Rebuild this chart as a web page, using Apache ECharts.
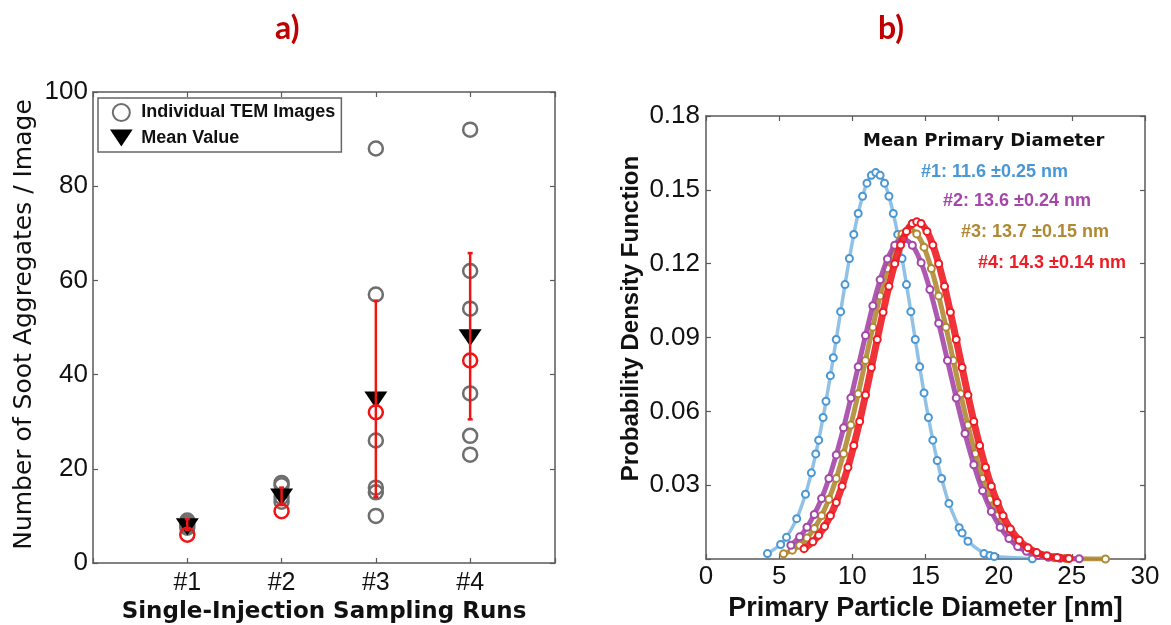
<!DOCTYPE html>
<html>
<head>
<meta charset="utf-8">
<script src="https://cdn.jsdelivr.net/npm/echarts@6/dist/echarts.min.js"></script>
<style>
  html, body { margin: 0; padding: 0; background: #fff; }
  #chart { width: 1171px; height: 625px; }
</style>
</head>
<body>
<div id="chart"></div>
<script>
// ---- panel a) data ----
var runs = [1, 2, 3, 4];
var runLabels = ['#1', '#2', '#3', '#4'];
var temImages = [
    [9, 8.5, 8, 7.5],
    [17, 16.5, 14, 13],
    [88, 57, 26, 16, 15, 10],
    [92, 62, 54, 36, 27, 23]
];
var meanValues = [7.7, 14, 34.6, 47.8];
var redValues = [6, 11, 32, 43];
var errLow = [7, 12.3, 14, 30.5];
var errHigh = [9.3, 16, 55.7, 65.8];

// ---- panel b) data (read off the curves) ----
var d1x = [4.2, 5.1, 5.5, 6.2, 6.8, 7.2, 7.5, 7.7, 8.0, 8.2, 8.5, 8.7, 8.9, 9.2, 9.5, 9.8, 10.1, 10.4, 10.7, 11.0, 11.3, 11.6,
    11.9, 12.2, 12.5, 12.8, 13.1, 13.4, 13.7, 14.0, 14.3, 14.6, 14.9, 15.2, 15.5, 15.8, 16.1, 16.6, 17.3, 17.5, 17.9, 19.0, 19.4, 19.7, 22.3];
var d1y = [0.0022, 0.0059, 0.0088, 0.0164, 0.0263, 0.0350, 0.0427, 0.0483, 0.0575, 0.0641, 0.0745, 0.0818, 0.0892, 0.1005, 0.1115,
    0.1221, 0.1319, 0.1404, 0.1474, 0.1527, 0.1559, 0.1570, 0.1559, 0.1527, 0.1474, 0.1404, 0.1319, 0.1221, 0.1115, 0.1005, 0.0892,
    0.0781, 0.0675, 0.0575, 0.0483, 0.0400, 0.0327, 0.0226, 0.0127, 0.0106, 0.0072, 0.0022, 0.0014, 0.0010, 0.0001];

var d2x = [5.8, 6.4, 6.9, 7.4, 7.9, 8.4, 8.9, 9.4, 9.9, 10.4, 10.9, 11.4, 11.9, 12.4, 12.9, 13.5, 14.1, 14.7, 15.3, 15.9, 16.5,
    17.1, 17.7, 18.3, 18.9, 19.5, 20.1, 20.7, 21.3, 21.9, 22.7, 23.4, 24.2, 25.5];
var d2y = [0.0056, 0.0090, 0.0129, 0.0181, 0.0246, 0.0327, 0.0423, 0.0533, 0.0654, 0.0781, 0.0908, 0.1029, 0.1135, 0.1219, 0.1275,
    0.1300, 0.1275, 0.1204, 0.1095, 0.0958, 0.0807, 0.0654, 0.0510, 0.0383, 0.0277, 0.0193, 0.0129, 0.0083, 0.0051, 0.0031, 0.0015,
    0.0007, 0.0003, 0.0001];

var d3x = [5.3, 5.9, 6.4, 6.9, 7.4, 7.9, 8.4, 8.9, 9.4, 9.9, 10.4, 10.9, 11.4, 11.9, 12.4, 12.9, 13.4, 13.9, 14.4, 14.9, 15.4, 15.9,
    16.4, 16.9, 17.4, 17.9, 18.4, 18.9, 19.4, 19.9, 20.4, 20.9, 21.5, 22.2, 22.9, 23.8, 24.6, 27.3];
var d3y = [0.0021, 0.0036, 0.0056, 0.0085, 0.0124, 0.0176, 0.0243, 0.0327, 0.0428, 0.0544, 0.0671, 0.0807, 0.0942, 0.1069, 0.1180,
    0.1267, 0.1321, 0.1340, 0.1321, 0.1267, 0.1180, 0.1069, 0.0942, 0.0807, 0.0671, 0.0544, 0.0428, 0.0327, 0.0243, 0.0176, 0.0124,
    0.0085, 0.0052, 0.0028, 0.0014, 0.0005, 0.0002, 0.0000];

var d4x = [6.7, 7.3, 7.7, 8.1, 8.5, 8.9, 9.3, 9.7, 10.1, 10.5, 10.9, 11.3, 11.7, 12.1, 12.5, 12.9, 13.3, 13.7, 14.1, 14.4, 14.7, 15.1,
    15.5, 15.9, 16.3, 16.7, 17.1, 17.5, 17.9, 18.3, 18.7, 19.1, 19.5, 19.9, 20.3, 20.8, 21.4, 22.0, 22.6, 23.3, 24.0, 24.8];
var d4y = [0.0042, 0.0070, 0.0097, 0.0132, 0.0176, 0.0230, 0.0296, 0.0373, 0.0461, 0.0559, 0.0666, 0.0778, 0.0892, 0.1003, 0.1108,
    0.1200, 0.1276, 0.1331, 0.1363, 0.1370, 0.1363, 0.1331, 0.1276, 0.1200, 0.1108, 0.1003, 0.0892, 0.0778, 0.0666, 0.0559, 0.0461,
    0.0373, 0.0296, 0.0230, 0.0176, 0.0122, 0.0076, 0.0046, 0.0026, 0.0013, 0.0006, 0.0002];

var statLabels = ['#1: 11.6 \u00b10.25 nm', '#2: 13.6 \u00b10.24 nm', '#3: 13.7 \u00b10.15 nm', '#4: 14.3 \u00b10.14 nm'];
var curveColors = ['#4a97d5', '#a447a9', '#b08a33', '#ee1c24'];

// ---- build ----
function pairs(xs, ys) {
    return xs.map(function (x, i) { return [x, ys[i]]; });
}
var temData = [];
temImages.forEach(function (vals, i) {
    vals.forEach(function (v) { temData.push([runs[i], v]); });
});
var meanData = pairs(runs, meanValues);
var redData = pairs(runs, redValues);
var errData = runs.map(function (r, i) { return [r, errLow[i], errHigh[i]]; });
var curves = [pairs(d1x, d1y), pairs(d2x, d2y), pairs(d3x, d3y), pairs(d4x, d4y)];

var FONT = '"Liberation Sans", Arial, sans-serif';
var WIDE = '"DejaVu Sans", sans-serif';
var axisGray = '#5a5a5a';

function boxAxis(gridIndex, pos, min, max, interval) {
    return {
        type: 'value', gridIndex: gridIndex, position: pos,
        min: min, max: max, interval: interval,
        axisLine: { show: true, onZero: false, lineStyle: { color: axisGray, width: 1.5 } },
        axisTick: { show: true, inside: true, length: 5, lineStyle: { color: axisGray, width: 1.2 } },
        axisLabel: { show: false },
        splitLine: { show: false }
    };
}

var myChart = echarts.init(document.getElementById('chart'));
var option = {
    animation: false,
    backgroundColor: '#fff',
    title: [
        { text: 'a)', left: 270, top: 8, textStyle: { color: '#c00000', fontSize: 32, fontWeight: 'bold', fontFamily: 'Lato' } },
        { text: 'b)', left: 873, top: 8, textStyle: { color: '#c00000', fontSize: 32, fontWeight: 'bold', fontFamily: 'Lato' } }
    ],
    grid: [
        { left: 93, top: 92, width: 462, height: 471, outerBoundsMode: 'none' },
        { left: 706, top: 116, width: 439, height: 443, outerBoundsMode: 'none' }
    ],
    legend: {
        left: 98, top: 98, orient: 'vertical',
        data: ['Individual TEM Images', 'Mean Value'],
        borderColor: '#666', borderWidth: 1.5, backgroundColor: '#fff',
        padding: [5, 6, 5, 12], itemGap: 7, itemWidth: 30, itemHeight: 17,
        textStyle: { fontFamily: FONT, fontSize: 18, fontWeight: 'bold', color: '#111' }
    },
    xAxis: [
        {
            type: 'value', gridIndex: 0, min: 0, max: 4.9, interval: 1,
            name: 'Single-Injection Sampling Runs', nameLocation: 'middle', nameGap: 33,
            nameTextStyle: { fontFamily: WIDE, fontSize: 23, fontWeight: 'bold', color: '#111' },
            axisLine: { onZero: false, lineStyle: { color: axisGray, width: 1.5 } },
            axisTick: { inside: true, length: 5, lineStyle: { color: axisGray, width: 1.2 } },
            axisLabel: {
                margin: 8, fontFamily: FONT, fontSize: 25, color: '#111',
                formatter: function (v) { return runs.indexOf(v) >= 0 ? runLabels[runs.indexOf(v)] : ''; }
            },
            splitLine: { show: false }
        },
        boxAxis(0, 'top', 0, 4.9, 1),
        {
            type: 'value', gridIndex: 1, min: 0, max: 30, interval: 5,
            name: 'Primary Particle Diameter [nm]', nameLocation: 'middle', nameGap: 36,
            nameTextStyle: { fontFamily: FONT, fontSize: 27, fontWeight: 'bold', color: '#111' },
            axisLine: { onZero: false, lineStyle: { color: axisGray, width: 1.5 } },
            axisTick: { inside: true, length: 5, lineStyle: { color: axisGray, width: 1.2 } },
            axisLabel: { margin: 5, fontFamily: FONT, fontSize: 26, color: '#111' },
            splitLine: { show: false }
        },
        boxAxis(1, 'top', 0, 30, 5)
    ],
    yAxis: [
        {
            type: 'value', gridIndex: 0, min: 0, max: 100, interval: 20,
            name: 'Number of Soot Aggregates / Image', nameLocation: 'middle', nameGap: 56, nameRotate: 90,
            nameTextStyle: { fontFamily: WIDE, fontSize: 25, color: '#111', padding: [0, 0, 0, 6] },
            axisLine: { onZero: false, lineStyle: { color: axisGray, width: 1.5 } },
            axisTick: { inside: true, length: 5, lineStyle: { color: axisGray, width: 1.2 } },
            axisLabel: { margin: 5, fontFamily: FONT, fontSize: 26, color: '#111' },
            splitLine: { show: false }
        },
        boxAxis(0, 'right', 0, 100, 20),
        {
            type: 'value', gridIndex: 1, min: 0, max: 0.18, interval: 0.03,
            name: 'Probability Density Function', nameLocation: 'middle', nameGap: 63, nameRotate: 90,
            nameTextStyle: { fontFamily: FONT, fontSize: 24, fontWeight: 'bold', color: '#111', padding: [0, 0, 0, 38] },
            axisLine: { onZero: false, lineStyle: { color: axisGray, width: 1.5 } },
            axisTick: { inside: true, length: 5, lineStyle: { color: axisGray, width: 1.2 } },
            axisLabel: {
                margin: 6, fontFamily: FONT, fontSize: 26, color: '#111',
                formatter: function (v) { return v === 0 ? '' : v.toFixed(2); }
            },
            splitLine: { show: false }
        },
        boxAxis(1, 'right', 0, 0.18, 0.03)
    ],
    graphic: [
        { type: 'text', left: 863, top: 132, style: { text: 'Mean Primary Diameter', font: 'bold 18px ' + WIDE, fill: '#111' } },
        { type: 'text', left: 921, top: 163, style: { text: statLabels[0], font: 'bold 18px ' + FONT, fill: curveColors[0] } },
        { type: 'text', left: 943, top: 192, style: { text: statLabels[1], font: 'bold 18px ' + FONT, fill: curveColors[1] } },
        { type: 'text', left: 961, top: 223, style: { text: statLabels[2], font: 'bold 18px ' + FONT, fill: curveColors[2] } },
        { type: 'text', left: 978, top: 254, style: { text: statLabels[3], font: 'bold 18px ' + FONT, fill: curveColors[3] } }
    ],
    series: [
        {
            name: 'Individual TEM Images', type: 'scatter', xAxisIndex: 0, yAxisIndex: 0,
            symbol: 'circle', symbolSize: 14, data: temData, z: 2,
            itemStyle: { color: 'rgba(255,255,255,0)', borderColor: '#6e6e6e', borderWidth: 2.5, opacity: 1 }
        },
        {
            name: 'Mean Value', type: 'scatter', xAxisIndex: 0, yAxisIndex: 0,
            symbol: 'path://M0,0 L10,0 L5,7.5 Z', symbolSize: [23, 17], data: meanData, z: 3,
            itemStyle: { color: '#000', opacity: 1 }
        },
        {
            name: 'error', type: 'custom', xAxisIndex: 0, yAxisIndex: 0, z: 4,
            encode: { x: 0, y: [1, 2] },
            data: errData,
            renderItem: function (params, api) {
                var x = api.value(0);
                var lo = api.coord([x, api.value(1)]);
                var hi = api.coord([x, api.value(2)]);
                var cap = 2.5;
                var st = { stroke: '#f01414', lineWidth: 2.5 };
                return {
                    type: 'group',
                    children: [
                        { type: 'line', shape: { x1: lo[0], y1: lo[1], x2: hi[0], y2: hi[1] }, style: st },
                        { type: 'line', shape: { x1: lo[0] - cap, y1: lo[1], x2: lo[0] + cap, y2: lo[1] }, style: st },
                        { type: 'line', shape: { x1: hi[0] - cap, y1: hi[1], x2: hi[0] + cap, y2: hi[1] }, style: st }
                    ]
                };
            }
        },
        {
            name: 'red', type: 'scatter', xAxisIndex: 0, yAxisIndex: 0,
            symbol: 'circle', symbolSize: 14, data: redData, z: 5,
            itemStyle: { color: 'rgba(255,255,255,0)', borderColor: '#f01414', borderWidth: 2.5, opacity: 1 }
        }
    ]
};

// panel b curves live on the third x/y axes (grid 1); blue under, red on top
var curveZ = [2, 4, 3, 5];
var curveWidth = [3.5, 5, 5, 7];
curves.forEach(function (c, i) {
    option.series.push({
        name: statLabels[i], type: 'line', xAxisIndex: 2, yAxisIndex: 2,
        data: c, smooth: 0.3, symbol: 'emptyCircle', symbolSize: 7, showAllSymbol: true,
        lineStyle: { color: curveColors[i], width: curveWidth[i], opacity: i === 0 ? 0.6 : 0.9 },
        itemStyle: { color: curveColors[i], borderWidth: 1 },
        z: curveZ[i]
    });
});

myChart.setOption(option);
window.onresize = function () {
    myChart.resize();
};
</script>
</body>
</html>
